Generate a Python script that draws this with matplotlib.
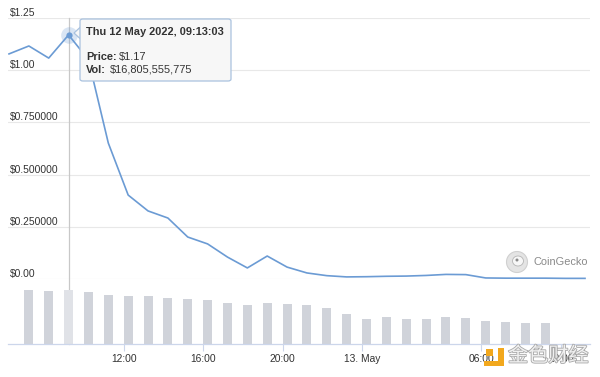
import matplotlib
matplotlib.use("Agg")
import matplotlib.pyplot as plt
import matplotlib.dates as mdates
import matplotlib.patheffects as pe
from matplotlib.patches import FancyBboxPatch, Ellipse, Polygon, Rectangle
from matplotlib.transforms import offset_copy
import pandas as pd

# ---------------- data ----------------
start_time = "2022-05-12 06:13:03"
prices = [1.078, 1.116, 1.058, 1.169, 1.050, 0.651, 0.402, 0.326, 0.292, 0.201,
          0.168, 0.105, 0.053, 0.110, 0.057, 0.029, 0.016, 0.010, 0.011, 0.013,
          0.014, 0.017, 0.022, 0.021, 0.005, 0.004, 0.004, 0.004, 0.003, 0.003]
# hourly volume (billions USD) for points 1..27
volumes = [16.8, 16.5, 16.8, 16.2, 15.2, 14.9, 14.9, 14.3, 14.0, 13.7, 12.8, 12.1,
           12.8, 12.4, 12.1, 11.2, 9.3, 7.8, 8.4, 7.8, 7.8, 8.4, 8.1, 7.2, 6.8, 6.5, 6.5]
y_ticks = [0.0, 0.25, 0.5, 0.75, 1.0, 1.25]
y_labels = ["$0.00", "$0.250000", "$0.500000", "$0.750000", "$1.00", "$1.25"]
x_tick_times = ["2022-05-12 12:00", "2022-05-12 16:00", "2022-05-12 20:00",
                "2022-05-13 00:00", "2022-05-13 06:00", "2022-05-13 10:00"]
x_tick_labels = ["12:00", "16:00", "20:00", "13. May", "06:00", "10:00"]
hover_index = 3
tooltip_title = "Thu 12 May 2022, 09:13:03"
tooltip_price = "$1.17"
tooltip_vol = "$16,805,555,775"

times = pd.date_range(start_time, periods=len(prices), freq="h")
tnum = mdates.date2num(times.to_pydatetime())
vol_t = tnum[1:1 + len(volumes)]

W, H = 600, 377
fig = plt.figure(figsize=(W / 100, H / 100), dpi=100)
fig.patch.set_facecolor("white")
FONT = "Liberation Sans"
plt.rcParams["font.family"] = [FONT, "DejaVu Sans"]

def fx(px):
    return px / W

def fy(py):
    return 1 - py / H

LINE = "#6b9bd4"
GRID = "#e8e8e8"
TXT = "#333333"

# axes geometry (pixels)
ax_l, ax_r = 8, 590
p_top, p_bot = 18, 279
v_top, v_bot = 284, 344

hour = 1 / 24.0
pxh = (585 - 9) / (len(prices) - 1)
xlo = tnum[0] - (9 - ax_l) / pxh * hour
xhi = tnum[-1] + (ax_r - 585) / pxh * hour

axp = fig.add_axes([fx(ax_l), fy(p_bot), (ax_r - ax_l) / W, (p_bot - p_top) / H])
axv = fig.add_axes([fx(ax_l), fy(v_bot), (ax_r - ax_l) / W, (v_bot - v_top) / H])

for a in (axp, axv):
    a.set_xlim(xlo, xhi)
    a.set_facecolor("none")
    for s in a.spines.values():
        s.set_visible(False)

# price panel
axp.set_ylim(0, 1.25)
axp.set_yticks(y_ticks)
axp.set_yticklabels([])
axp.tick_params(left=False, bottom=False, labelbottom=False)
axp.set_xticks([])
axp.grid(axis="y", color=GRID, linewidth=0.8)
axp.set_axisbelow(True)
for v, lab in zip(y_ticks, y_labels):
    tr = offset_copy(axp.get_yaxis_transform(), fig=fig, x=1.5, y=5, units="dots")
    axp.text(0.0, v, lab, transform=tr, ha="left", va="center",
             fontsize=7.4, color=TXT)

axp.plot(tnum, prices, color=LINE, linewidth=1.2, zorder=3, clip_on=False)

# crosshair
axp.axvline(tnum[hover_index], ymin=-(v_bot - p_bot) / (p_bot - p_top), ymax=1,
            color="#c8c8c8", linewidth=0.9, clip_on=False, zorder=2)
axp.plot([tnum[hover_index]], [prices[hover_index]], marker="o", markersize=12,
         color=LINE, alpha=0.25, markeredgewidth=0, zorder=4, clip_on=False)
axp.plot([tnum[hover_index]], [prices[hover_index]], marker="o", markersize=4.5,
         color=LINE, markeredgewidth=0, zorder=5, clip_on=False)

# volume panel
vmax = volumes[hover_index - 1] * (v_bot - v_top) / 54.0
axv.set_ylim(0, vmax)
axv.set_yticks([])
bar_w = 9 / pxh * hour
colors = ["#d0d3da"] * len(volumes)
colors[hover_index - 1] = "#e0e2e7"
axv.bar(vol_t, volumes, width=bar_w, color=colors, zorder=1)
axv.spines["bottom"].set_visible(True)
axv.spines["bottom"].set_color("#ccd6eb")
axv.spines["bottom"].set_linewidth(0.9)
tick_pos = mdates.date2num(pd.to_datetime(x_tick_times).to_pydatetime())
axv.set_xticks(tick_pos)
axv.set_xticklabels(x_tick_labels)
axv.tick_params(axis="x", length=5, width=0.8, color="#ccd6eb", labelsize=7.4,
                labelcolor=TXT, pad=2.5)

# tooltip
bx0, by0, bx1, by1 = 80, 19, 231, 81
box = FancyBboxPatch((fx(bx0), fy(by1)), (bx1 - bx0) / W, (by1 - by0) / H,
                     boxstyle="round,pad=0,rounding_size=0.005",
                     transform=fig.transFigure, facecolor="#f7f7f7",
                     edgecolor="#a9c2df", linewidth=0.9, zorder=10)
fig.add_artist(box)
notch = Polygon([(fx(bx0 + 0.5), fy(27)), (fx(74), fy(33)), (fx(bx0 + 0.5), fy(39))],
                closed=True, transform=fig.transFigure, facecolor="#f7f7f7",
                edgecolor="#a9c2df", linewidth=0.9, zorder=9)
fig.add_artist(notch)
fig.text(fx(86), fy(32), tooltip_title, fontsize=7.9, fontweight="bold",
         color=TXT, ha="left", va="center", zorder=11)
fig.text(fx(86), fy(57), "Price:", fontsize=7.9, fontweight="bold",
         color=TXT, ha="left", va="center", zorder=11)
fig.text(fx(119), fy(57), tooltip_price, fontsize=7.9, color=TXT,
         ha="left", va="center", zorder=11)
fig.text(fx(86), fy(70), "Vol:", fontsize=7.9, fontweight="bold",
         color=TXT, ha="left", va="center", zorder=11)
fig.text(fx(110), fy(70), tooltip_vol, fontsize=7.9, color=TXT,
         ha="left", va="center", zorder=11)

# CoinGecko logo
fig.add_artist(Ellipse((fx(517), fy(262)), 21 / W, 21 / H, transform=fig.transFigure,
                       facecolor="#e4e4e4", edgecolor="#d0d0d0", linewidth=0.8, zorder=6))
fig.add_artist(Ellipse((fx(518), fy(261)), 11 / W, 10 / H, transform=fig.transFigure,
                       facecolor="#f7f7f7", edgecolor="#b5b5b5", linewidth=0.6, zorder=7))
fig.add_artist(Ellipse((fx(517), fy(260)), 3 / W, 3 / H, transform=fig.transFigure,
                       facecolor="#8a8a8a", edgecolor="none", zorder=8))
fig.text(fx(533), fy(262), "CoinGecko", fontsize=7.9, color="#8a8a8a",
         ha="left", va="center", zorder=7)

# watermark
fig.add_artist(Rectangle((fx(484), fy(366)), 20 / W, 5 / H, transform=fig.transFigure,
                         facecolor="#f2a81d", edgecolor="none", zorder=12))
fig.add_artist(Rectangle((fx(498), fy(366)), 6 / W, 18 / H, transform=fig.transFigure,
                         facecolor="#f2a81d", edgecolor="none", zorder=12))
fig.add_artist(Rectangle((fx(486), fy(356)), 7 / W, 7 / H, transform=fig.transFigure,
                         facecolor="#f2a81d", edgecolor="none", zorder=12))
fig.text(fx(508), fy(356), "金色财经", fontsize=14.5, color="#f0f0f0",
         family=["Noto Sans CJK SC", "DejaVu Sans"], ha="left", va="center",
         zorder=12,
         path_effects=[pe.withStroke(linewidth=1.2, foreground="#a8a8a8")])

fig.savefig("out.png", dpi=100, facecolor="white")
